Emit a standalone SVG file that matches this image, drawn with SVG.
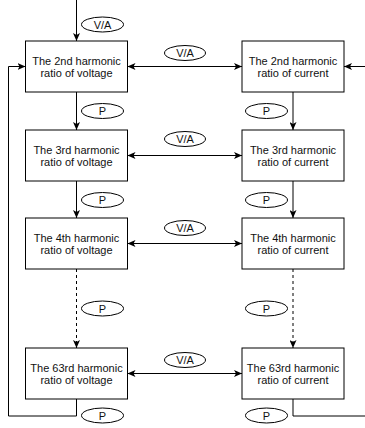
<svg xmlns="http://www.w3.org/2000/svg" width="365" height="428" viewBox="0 0 365 428">
<style>
.box{fill:#fff;stroke:#000;stroke-width:1}
.ell{fill:#fff;stroke:#000;stroke-width:1}
.ln{fill:none;stroke:#000;stroke-width:1}
.dash{stroke-dasharray:3 3}
text{font-family:"Liberation Sans",Arial,Helvetica,sans-serif;font-size:11px;fill:#111;text-anchor:middle}
</style>
<defs>
<marker id="ah" viewBox="0 0 8 7" refX="8" refY="3.5" markerWidth="8" markerHeight="7" markerUnits="userSpaceOnUse" orient="auto-start-reverse">
<path d="M0,0 L8,3.5 L0,7 L2,3.5 z" fill="#000"/>
</marker>
</defs>
<rect width="365" height="428" fill="#fff"/>
<g id="connectors">
<line class="ln" x1="76.5" y1="0" x2="76.5" y2="41" marker-end="url(#ah)"/>
<line class="ln" x1="127.5" y1="66.5" x2="242" y2="66.5" marker-start="url(#ah)" marker-end="url(#ah)"/>
<line class="ln" x1="127.5" y1="155.5" x2="242" y2="155.5" marker-start="url(#ah)" marker-end="url(#ah)"/>
<line class="ln" x1="127.5" y1="243.5" x2="242" y2="243.5" marker-start="url(#ah)" marker-end="url(#ah)"/>
<line class="ln" x1="127.5" y1="373.5" x2="242" y2="373.5" marker-start="url(#ah)" marker-end="url(#ah)"/>
<line class="ln" x1="76.5" y1="92" x2="76.5" y2="130" marker-end="url(#ah)"/>
<line class="ln" x1="76.5" y1="181" x2="76.5" y2="218" marker-end="url(#ah)"/>
<line class="ln dash" x1="76.5" y1="269" x2="76.5" y2="348" marker-end="url(#ah)"/>
<line class="ln" x1="293" y1="92" x2="293" y2="130" marker-end="url(#ah)"/>
<line class="ln" x1="293" y1="181" x2="293" y2="218" marker-end="url(#ah)"/>
<line class="ln dash" x1="293" y1="269" x2="293" y2="348" marker-end="url(#ah)"/>
<polyline class="ln" points="76.5,399 76.5,416 8.5,416 8.5,66.5 25.5,66.5" marker-end="url(#ah)"/>
<polyline class="ln" points="293,399 293,416 365,416"/>
<line class="ln" x1="365" y1="66.5" x2="344" y2="66.5" marker-end="url(#ah)"/>
</g>
<g id="lbl-va-top"><ellipse class="ell" cx="102.5" cy="24.5" rx="21" ry="7.5"/><text x="102.5" y="28.5">V/A</text></g>
<g id="lbl-va-1"><ellipse class="ell" cx="185" cy="53" rx="20.5" ry="7.5"/><text x="185" y="57">V/A</text></g>
<g id="lbl-va-2"><ellipse class="ell" cx="185" cy="139" rx="20.5" ry="7.5"/><text x="185" y="143">V/A</text></g>
<g id="lbl-va-3"><ellipse class="ell" cx="185" cy="228" rx="20.5" ry="7.5"/><text x="185" y="232">V/A</text></g>
<g id="lbl-va-4"><ellipse class="ell" cx="185" cy="360" rx="20.5" ry="7.5"/><text x="185" y="364">V/A</text></g>
<g id="lbl-p-l1"><ellipse class="ell" cx="102.5" cy="111" rx="21" ry="7.5"/><text x="102.5" y="115">P</text></g>
<g id="lbl-p-r1"><ellipse class="ell" cx="266.5" cy="111" rx="21" ry="7.5"/><text x="266.5" y="115">P</text></g>
<g id="lbl-p-l2"><ellipse class="ell" cx="102.5" cy="200" rx="21" ry="7.5"/><text x="102.5" y="204">P</text></g>
<g id="lbl-p-r2"><ellipse class="ell" cx="266.5" cy="200" rx="21" ry="7.5"/><text x="266.5" y="204">P</text></g>
<g id="lbl-p-l3"><ellipse class="ell" cx="102.5" cy="308.5" rx="21" ry="7.5"/><text x="102.5" y="312.5">P</text></g>
<g id="lbl-p-r3"><ellipse class="ell" cx="266.5" cy="308.5" rx="21" ry="7.5"/><text x="266.5" y="312.5">P</text></g>
<g id="lbl-p-l4"><ellipse class="ell" cx="102.5" cy="415.5" rx="21" ry="7.5"/><text x="102.5" y="419.5">P</text></g>
<g id="lbl-p-r4"><ellipse class="ell" cx="266.5" cy="415.5" rx="21" ry="7.5"/><text x="266.5" y="419.5">P</text></g>
<g id="v2"><rect class="box" x="25.5" y="41" width="102" height="51"/><text x="76.5" y="64.5">The 2nd harmonic</text><text x="76.5" y="77">ratio of voltage</text></g>
<g id="c2"><rect class="box" x="242" y="41" width="102" height="51"/><text x="293" y="64.5">The 2nd harmonic</text><text x="293" y="77">ratio of current</text></g>
<g id="v3"><rect class="box" x="25.5" y="130" width="102" height="51"/><text x="76.5" y="153.5">The 3rd harmonic</text><text x="76.5" y="166">ratio of voltage</text></g>
<g id="c3"><rect class="box" x="242" y="130" width="102" height="51"/><text x="293" y="153.5">The 3rd harmonic</text><text x="293" y="166">ratio of current</text></g>
<g id="v4"><rect class="box" x="25.5" y="218" width="102" height="51"/><text x="76.5" y="241.5">The 4th harmonic</text><text x="76.5" y="254">ratio of voltage</text></g>
<g id="c4"><rect class="box" x="242" y="218" width="102" height="51"/><text x="293" y="241.5">The 4th harmonic</text><text x="293" y="254">ratio of current</text></g>
<g id="v63"><rect class="box" x="25.5" y="348" width="102" height="51"/><text x="76.5" y="371.5">The 63rd harmonic</text><text x="76.5" y="384">ratio of voltage</text></g>
<g id="c63"><rect class="box" x="242" y="348" width="102" height="51"/><text x="293" y="371.5">The 63rd harmonic</text><text x="293" y="384">ratio of current</text></g>
</svg>
